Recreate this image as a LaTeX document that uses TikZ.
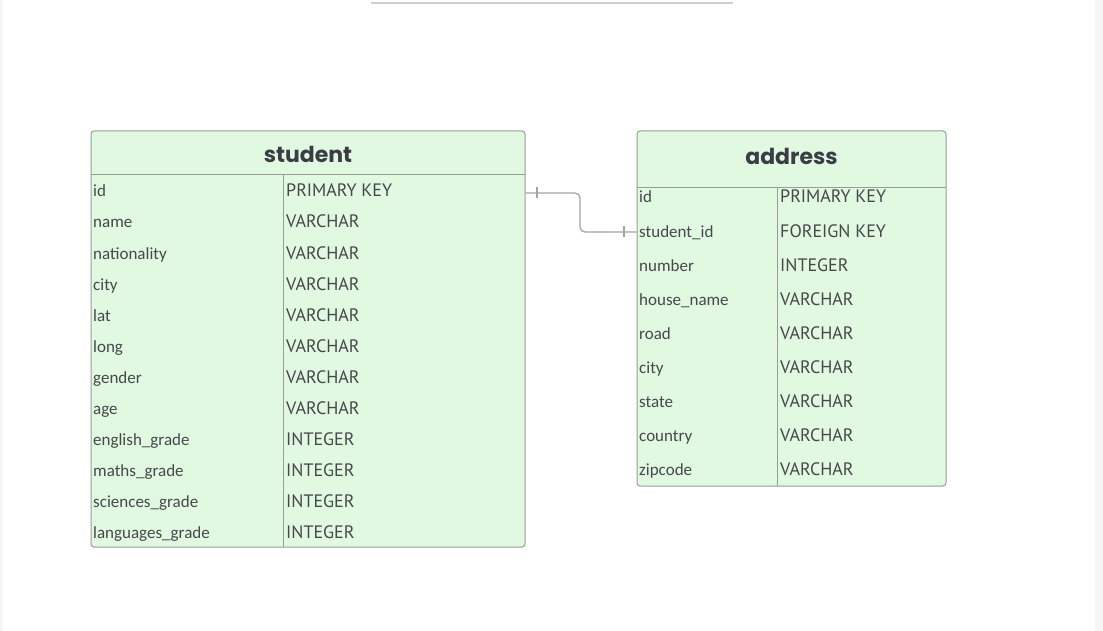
\documentclass[tikz,border=0pt]{standalone}
\usepackage{fontspec}
\newfontfamily\namefont{Carlito}
\newfontfamily\typefont{PT Sans}
\newfontfamily\headfont{Poppins}
\definecolor{tblfill}{RGB}{225,248,225}
\definecolor{tbldraw}{RGB}{150,158,150}
\definecolor{txt}{RGB}{70,72,76}
\definecolor{hdtxt}{RGB}{58,61,69}
\definecolor{conn}{RGB}{160,164,172}
\definecolor{edge}{RGB}{246,246,246}
\definecolor{topline}{RGB}{205,209,214}
\tikzset{
  tbl/.style={draw=tbldraw, fill=tblfill, line width=1pt, rounded corners=3pt},
  sep/.style={draw=tbldraw, line width=1pt},
  nm/.style={anchor=base west, inner sep=0pt, text=txt, font=\namefont\fontsize{17}{20}\selectfont},
  ty/.style={anchor=base west, inner sep=0pt, text=txt, font=\typefont\fontsize{18}{20}\selectfont},
  hd/.style={anchor=base, inner sep=0pt, text=hdtxt, font=\headfont\bfseries\fontsize{22}{26}\selectfont},
  rel/.style={draw=conn, line width=1.3pt, rounded corners=5pt},
  tick/.style={draw=conn, line width=1.1pt}
}
\begin{document}
\begin{tikzpicture}[x=1pt,y=-1pt]
\useasboundingbox (0,0) rectangle (1103,631);
\fill[white] (0,0) rectangle (1103,631);
\fill[edge] (0,0) rectangle (3,631);
\fill[edge] (1095,0) rectangle (1103,631);
\draw[topline, line width=2pt] (371,3) -- (733,3);
% student table
\path[tbl] (91,131) rectangle (525,547);
\draw[sep] (91,175) -- (525,175);
\draw[sep] (283,175) -- (283,547);
\node[hd] (student) at (308,163) {student};
\foreach \n/\t [count=\i from 0] in {id/PRIMARY KEY, name/VARCHAR, nationality/VARCHAR, city/VARCHAR, lat/VARCHAR, long/VARCHAR, gender/VARCHAR, age/VARCHAR, english\_grade/INTEGER, maths\_grade/INTEGER, sciences\_grade/INTEGER, languages\_grade/INTEGER}{
  \node[nm] (sn\i) at (93,{197+31*\i}) {\n};
  \node[ty] (st\i) at (286,{197+31*\i}) {\t};
}
% address table
\path[tbl] (637,131) rectangle (946,486);
\draw[sep] (637,188) -- (946,188);
\draw[sep] (777,188) -- (777,486);
\node[hd] (address) at (791.5,165) {address};
\foreach \n/\t [count=\i from 0] in {id/PRIMARY KEY, student\_id/FOREIGN KEY, number/INTEGER, house\_name/VARCHAR, road/VARCHAR, city/VARCHAR, state/VARCHAR, country/VARCHAR, zipcode/VARCHAR}{
  \node[nm] (an\i) at (639,{203+34.1*\i}) {\n};
  \node[ty] (at\i) at (780,{203+34.1*\i}) {\t};
}
% relation
\coordinate (fromS) at (525.5,193);
\coordinate (toA) at (636.5,232);
\draw[rel] (fromS) -- (580,193) -- (580,232) -- (toA);
\draw[tick] (537,187.5) -- (537,198.5);
\draw[tick] (624,226.5) -- (624,237.5);
\end{tikzpicture}
\end{document}
